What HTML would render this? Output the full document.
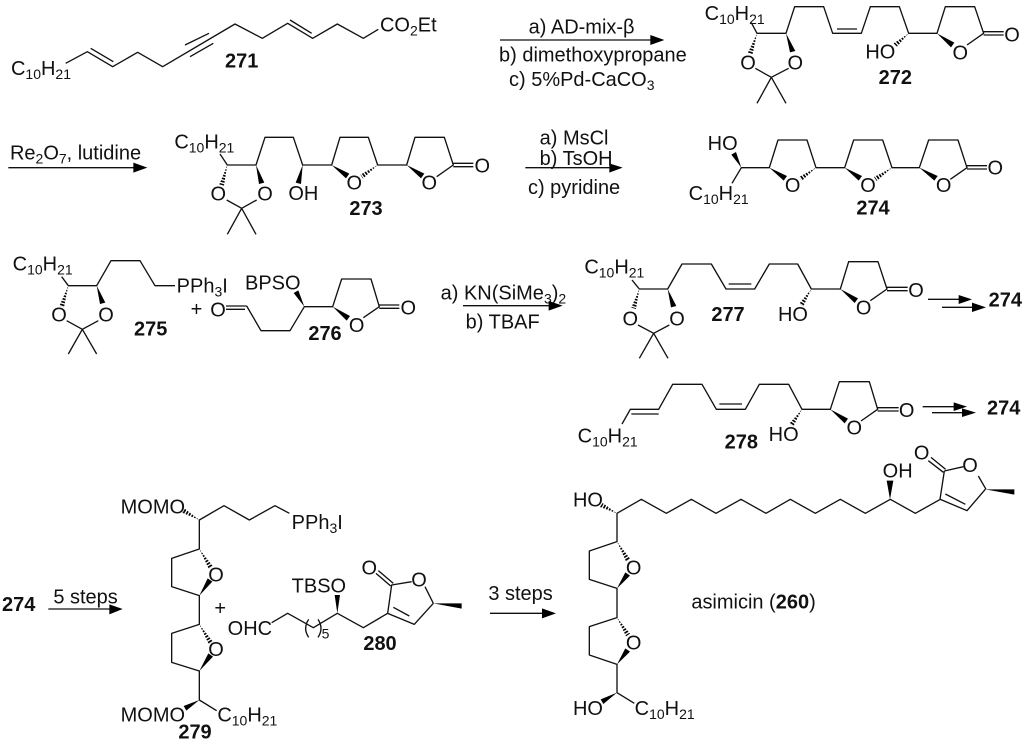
<!DOCTYPE html>
<html lang="en">
<head>
<meta charset="utf-8">
<title>Asimicin synthesis scheme</title>
<style>
html,body{margin:0;padding:0;background:#fff;}
svg{display:block;}
text{font-family:"Liberation Sans",Arial,sans-serif;font-size:60px;fill:#111;}
.b{font-weight:bold;}
.s{font-size:42px;}
.m{text-anchor:middle;}
.l{fill:none;stroke:#111;stroke-width:4;stroke-linejoin:round;}
.w{fill:none;stroke:#fff;stroke-width:24;stroke-dasharray:4 5;}
polygon{fill:#000;}
</style>
</head>
<body>
<svg width="1024" height="742" viewBox="0 0 1024 742" xmlns="http://www.w3.org/2000/svg">
<rect width="1024" height="742" fill="#fff"/>

<!-- A: 271, 273 -->
<g transform="scale(0.33333)">
<polygon points="1133,495 1089,536 1081,524"/><path class="w" d="M1133 495L1085 530"/>
<polygon points="682,495 672,557 658,553"/><path class="w" d="M682 495L665 555"/>
<path class="l" d="M197 190L262 155L338 200L413 157L488 200L705 72L787 115L863 70L938 115L1012 72L1090 115L1135 88M272 145L340 185M870 60L935 100M555 135L627 100M570 170L640 130"/>
<text x="33" y="225">C<tspan class="s" dy="12">10</tspan><tspan dy="-12">H</tspan><tspan class="s" dy="12">21</tspan></text>
<text x="1140" y="95">CO<tspan class="s" dy="12">2</tspan><tspan dy="-12">Et</tspan></text>
<text class="b" x="675" y="203">271</text>

<path class="l" d="M25 503L405 503"/><polygon points="442,503 400,488 400,518"/>
<text x="30" y="478">Re<tspan class="s" dy="12">2</tspan><tspan dy="-12">O</tspan><tspan class="s" dy="12">7</tspan><tspan dy="-12">, lutidine</tspan></text>

<text x="523" y="445">C<tspan class="s" dy="12">10</tspan><tspan dy="-12">H</tspan><tspan class="s" dy="12">21</tspan></text>
<path class="l" d="M660 462L682 495L768 495L795 412L880 412L908 495L995 495L1020 412L1105 412L1133 495L1220 495L1245 412L1333 412L1360 495L1310 530M1360 490L1420 490M1360 500L1420 500M680 600L725 625L770 600M725 625L682 703M725 625L768 703"/>
<polygon points="1220,495 1263,535 1273,521"/><polygon points="995,495 1038,535 1048,521"/><polygon points="908,495 903,552 887,548"/><polygon points="768,495 793,548 777,552"/>
<text class="m" x="1288" y="569">O</text><text class="m" x="1447" y="518">O</text><text class="m" x="1063" y="569">O</text>
<text x="865" y="600">OH</text><text class="b" x="1048" y="645">273</text>
<text class="m" x="655" y="601">O</text><text class="m" x="795" y="601">O</text>
</g>

<!-- B: arrow 1, 272, arrow 2, 274 -->
<g transform="translate(512,0) scale(0.33333)">
<polygon points="1190,100 1155,140 1145,130"/><path class="w" d="M1190 100L1150 135"/>
<polygon points="735,100 722,162 708,158"/><path class="w" d="M735 100L715 160"/>
<polygon points="912,503 869,543 861,531"/><path class="w" d="M912 503L865 537"/>
<polygon points="1140,503 1094,543 1086,531"/><path class="w" d="M1140 503L1090 537"/>
<path class="l" d="M-36 120L420 120"/><polygon points="457,120 415,105 415,135"/>
<text x="50" y="100">a) AD-mix-β</text>
<text x="-39" y="185">b) dimethoxypropane</text>
<text x="-9" y="258">c) 5%Pd-CaCO<tspan class="s" dy="12">3</tspan></text>

<text x="578" y="60">C<tspan class="s" dy="12">10</tspan><tspan dy="-12">H</tspan><tspan class="s" dy="12">21</tspan></text>
<path class="l" d="M718 68L735 100L822 100L848 20L935 20L962 100L1048 100L1075 20L1162 20L1190 100L1275 100L1300 20L1388 20L1415 100L1365 135M975 87L1035 87M1415 95L1475 95M1415 105L1475 105M730 205L778 232L830 205M778 232L735 310M778 232L822 310"/>
<polygon points="1275,100 1317,142 1327,128"/><polygon points="822,100 850,153 834,157"/>
<text class="m" x="1345" y="178">O</text><text class="m" x="1500" y="124">O</text>
<text class="m" x="708" y="208">O</text><text class="m" x="850" y="208">O</text>
<text x="1060" y="175">HO</text><text class="b" x="1100" y="252">272</text>

<path class="l" d="M40 503L295 503"/><polygon points="332,503 292,490 292,518"/>
<text x="83" y="433">a) MsCl</text><text x="83" y="495">b) TsOH</text><text x="48" y="582">c) pyridine</text>

<text x="587" y="450">HO</text>
<polygon points="688,503 672,456 658,464"/>
<text x="530" y="600">C<tspan class="s" dy="12">10</tspan><tspan dy="-12">H</tspan><tspan class="s" dy="12">21</tspan></text>
<path class="l" d="M660 550L688 503L772 503L798 420L885 420L912 503L998 503L1025 420L1112 420L1140 503L1222 503L1250 420L1338 420L1365 503L1315 538M1365 497L1425 497M1365 507L1425 507"/>
<polygon points="772,503 815,542 825,528"/><polygon points="998,503 1040,542 1050,528"/><polygon points="1222,503 1267,542 1277,528"/>
<text class="m" x="842" y="576">O</text><text class="m" x="1068" y="576">O</text><text class="m" x="1295" y="576">O</text><text class="m" x="1450" y="524">O</text>
<text class="b" x="1033" y="643">274</text>
</g>

<!-- C: 275, 276 -->
<g transform="translate(0,240) scale(0.33333)">
<polygon points="205,137 192,202 178,198"/><path class="w" d="M205 137L185 200"/>
<text x="38" y="92">C<tspan class="s" dy="12">10</tspan><tspan dy="-12">H</tspan><tspan class="s" dy="12">21</tspan></text>
<path class="l" d="M185 110L205 137L290 137L333 62L420 62L465 137L525 137M200 242L247 268L295 242M247 268L205 342M247 268L290 342"/>
<polygon points="290,137 316,188 300,192"/>
<text x="530" y="158">PPh<tspan class="s" dy="12">3</tspan><tspan dy="-12">I</tspan></text>
<text class="m" x="177" y="244">O</text><text class="m" x="318" y="244">O</text>
<text class="b" x="402" y="287">275</text>
<text x="572" y="228">+</text>
<text class="m" x="654" y="229">O</text>
<path class="l" d="M678 198L740 198M678 208L735 208M740 198L783 272L870 272L913 200L998 200L1025 117L1113 117L1138 200L1090 233M1138 195L1198 195M1138 205L1198 205"/>
<polygon points="998,200 1040,242 1050,228"/><polygon points="913,200 895,151 881,159"/>
<text class="m" x="1070" y="276">O</text><text class="m" x="1225" y="224">O</text>
<text x="735" y="148">BPSO</text><text class="b" x="925" y="300">276</text>
<text x="1322" y="178">a) KN(SiMe<tspan class="s" dy="12">3</tspan><tspan dy="-12">)</tspan><tspan class="s" dy="12">2</tspan></text>
<text x="1397" y="265">b) TBAF</text>
</g>

<!-- D: 277, 278 -->
<g transform="translate(512,240) scale(0.33333)">
<polygon points="898,147 874,199 862,191"/><path class="w" d="M898 147L868 195"/>
<polygon points="382,147 372,207 358,203"/><path class="w" d="M382 147L365 205"/>
<polygon points="870,508 844,559 832,551"/><path class="w" d="M870 508L838 555"/>
<path class="l" d="M-147 197L115 197"/><polygon points="152,197 110,183 110,212"/>
<text x="217" y="100">C<tspan class="s" dy="12">10</tspan><tspan dy="-12">H</tspan><tspan class="s" dy="12">21</tspan></text>
<path class="l" d="M360 120L382 147L467 147L510 72L598 72L642 147L728 147L772 72L857 72L898 147L985 147L1010 65L1098 65L1125 147L1075 182M650 132L718 132M1125 142L1187 142M1125 152L1187 152M378 255L425 280L472 255M425 280L382 355M425 280L468 355"/>
<polygon points="985,147 1028,189 1038,175"/><polygon points="467,147 493,198 477,202"/>
<text class="m" x="1055" y="223">O</text><text class="m" x="1212" y="171">O</text>
<text class="m" x="355" y="256">O</text><text class="m" x="495" y="256">O</text>
<text x="798" y="243">HO</text><text class="b" x="598" y="243">277</text>
<path class="l" d="M1248 178L1345 178M1290 202L1385 202"/>
<polygon points="1380,178 1340,165 1340,192"/><polygon points="1422,202 1380,188 1380,216"/>
<text class="b" x="1430" y="200">274</text>

<text x="197" y="607">C<tspan class="s" dy="12">10</tspan><tspan dy="-12">H</tspan><tspan class="s" dy="12">21</tspan></text>
<path class="l" d="M330 552L355 508L440 508L482 433L570 433L613 508L700 508L742 433L830 433L870 508L955 508L982 425L1072 425L1097 508L1047 543M358 522L440 522M622 492L690 492M1097 503L1160 503M1097 513L1160 513"/>
<polygon points="955,508 998,550 1008,536"/>
<text class="m" x="1027" y="583">O</text><text class="m" x="1184" y="531">O</text>
<text x="770" y="603">HO</text><text class="b" x="638" y="626">278</text>
<path class="l" d="M1232 500L1330 500M1260 518L1355 518"/>
<polygon points="1365,500 1325,487 1325,513"/><polygon points="1392,518 1350,505 1350,531"/>
<text class="b" x="1425" y="524">274</text>
</g>

<!-- E: 279, 280 -->
<g transform="translate(0,480) scale(0.33333)">
<polygon points="598,120 554,86 546,98"/><path class="w" d="M598 120L550 92"/>
<polygon points="598,207 638,258 626,266"/><path class="w" d="M598 207L632 262"/>
<polygon points="598,433 638,484 626,492"/><path class="w" d="M598 433L632 488"/>
<text class="b" x="6" y="393">274</text>
<path class="l" d="M145 387L330 387"/><polygon points="368,387 328,373 328,403"/>
<text x="160" y="370">5 steps</text>

<text x="362" y="100">MOMO</text>
<path class="l" d="M868 100L825 77L748 120L672 77L598 120L598 207L515 235L515 320L598 347L598 433L515 460L515 547L598 573L598 660L650 692"/>
<polygon points="598,347 637,305 623,295"/><polygon points="598,573 639,530 625,520"/><polygon points="598,660 559,692 551,678"/>
<text x="875" y="147">PPh<tspan class="s" dy="12">3</tspan><tspan dy="-12">I</tspan></text>
<text class="m" x="648" y="304">O</text><text class="m" x="648" y="528">O</text>
<text x="362" y="725">MOMO</text>
<text x="652" y="725">C<tspan class="s" dy="12">10</tspan><tspan dy="-12">H</tspan><tspan class="s" dy="12">21</tspan></text>
<text class="b" x="535" y="775">279</text>
<text x="643" y="405">+</text>

<text x="683" y="465">OHC</text>
<path class="l" d="M815 428L863 400L940 443L1012 400L1090 443L1163 400L1243 433L1300 370M1163 400L1175 315L1235 305M1275 320L1300 370M1180 382L1228 408M1172 318L1128 280M1180 310L1135 272M926 418Q908 445 926 472M954 418Q972 445 954 472"/>
<text class="s" x="965" y="476">5</text>
<polygon points="1012,400 1020,345 1004,345"/><polygon points="1300,370 1385,370 1385,386"/>
<text x="875" y="338">TBSO</text>
<text class="m" x="1257" y="319">O</text><text class="m" x="1108" y="283">O</text>
<text class="b" x="1090" y="510">280</text>
<text x="1465" y="360">3 steps</text>
</g>

<!-- F: asimicin -->
<g transform="translate(512,470) scale(0.33333)">
<polygon points="315,130 272,99 264,111"/><path class="w" d="M315 130L268 105"/>
<polygon points="315,215 354,266 342,274"/><path class="w" d="M315 215L348 270"/>
<polygon points="315,443 354,491 342,499"/><path class="w" d="M315 443L348 495"/>
<path class="l" d="M-66 430L95 430"/><polygon points="132,430 90,415 90,445"/>
<text x="183" y="110">HO</text>
<path class="l" d="M367 700L315 668L315 583L232 555L232 470L315 443L315 355L232 328L232 243L315 215L315 130L388 88L463 130L538 88L612 130L687 88L762 130L835 88L910 130L985 88L1060 130L1135 88L1210 130L1285 88L1365 122L1420 58M1300 72L1360 103"/>
<polygon points="315,355 354,317 340,307"/><polygon points="315,583 354,545 340,535"/><polygon points="315,668 274,702 266,688"/><polygon points="1420,58 1507,58 1507,74"/>
<text class="m" x="365" y="313">O</text><text class="m" x="365" y="538">O</text>
<text x="183" y="735">HO</text>
<text x="368" y="735">C<tspan class="s" dy="12">10</tspan><tspan dy="-12">H</tspan><tspan class="s" dy="12">21</tspan></text>
<text x="538" y="415">asimicin (<tspan class="b">260</tspan>)</text>
</g>

<!-- G: asimicin lactone top -->
<g transform="translate(850,440) scale(0.33333)">
<text x="98" y="112">OH</text>
<polygon points="120,178 130,122 110,122"/>
<path class="l" d="M235 62L280 97M243 52L287 88M283 93L340 80M270 178L283 93M385 108L408 148"/>
<text class="m" x="215" y="59">O</text><text class="m" x="360" y="96">O</text>
</g>
</svg>
</body>
</html>
